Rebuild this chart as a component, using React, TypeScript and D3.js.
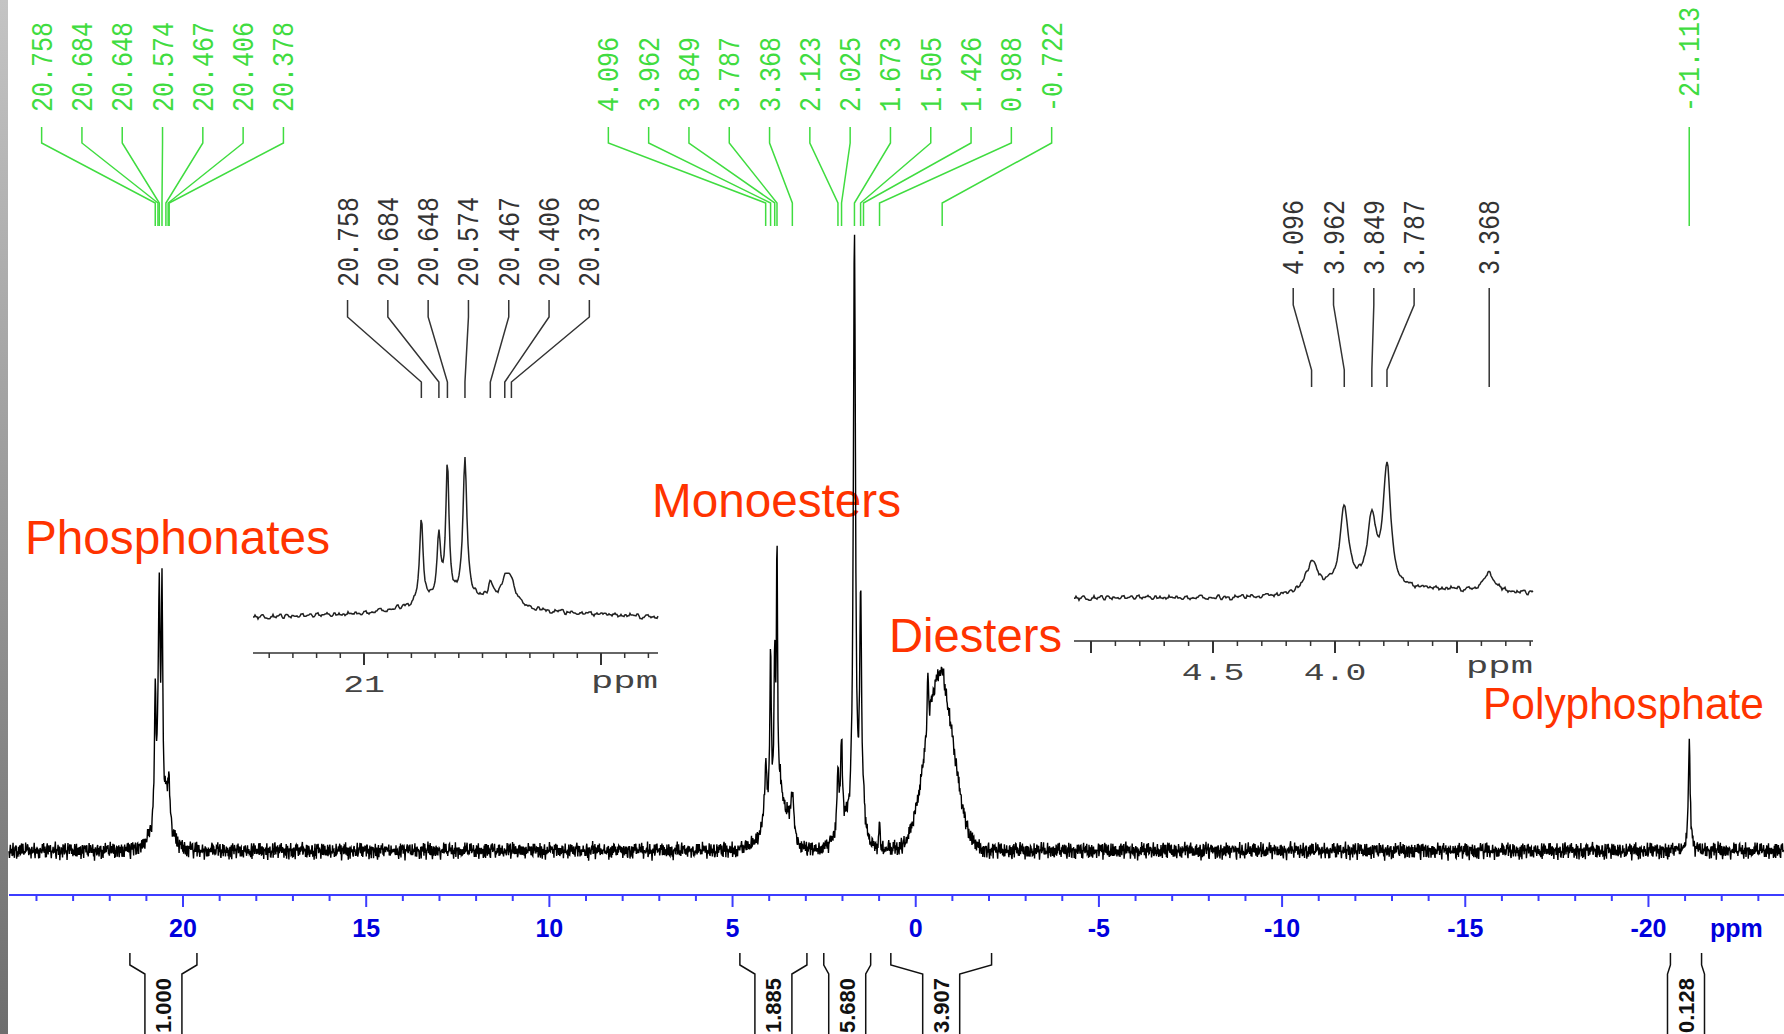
import React from 'react';
import * as d3 from 'd3';

const W = 1784;
const H = 1034;

// peaks: [ppm, height, half width (ppm), gaussian 1 / lorentzian 0]
// main trace heights are % of the tallest line
const phosphonatePeaks: number[][] = [
  [20.758, 22, 0.025, 0], [20.684, 10, 0.025, 0], [20.648, 34, 0.025, 0], [20.574, 38, 0.025, 0],
  [20.467, 5, 0.03, 0], [20.39, 8, 0.04, 0], [20.6, 3, 0.35, 1],
];
const monoesterPeaks: number[][] = [
  [4.096, 10, 0.04, 0], [3.962, 28, 0.025, 0], [3.849, 25, 0.025, 0], [3.787, 42, 0.02, 0],
  [3.7, 5, 0.05, 0], [3.368, 7, 0.04, 0], [3.55, 4, 0.2, 1], [3.95, 3, 0.4, 1],
];
const alkylPeaks: number[][] = [
  [2.123, 10, 0.03, 0], [2.025, 14.5, 0.03, 0], [1.673, 98, 0.035, 0], [1.505, 38, 0.03, 0],
  [1.426, 5, 0.04, 0], [0.988, 6, 0.012, 0], [1.9, 3, 0.3, 1],
];
const diesterPeaks: number[][] = [[-0.65, 28, 0.45, 1], [-0.33, 10, 0.02, 0], [-0.722, 2, 0.06, 0]];
const polyphosphatePeaks: number[][] = [[-21.113, 18, 0.03, 0]];

// expanded insets, heights in the inset's own units
const leftInsetPeaks: number[][] = [
  [20.758, 82, 0.009, 0], [20.684, 64, 0.009, 0], [20.648, 132, 0.008, 0], [20.574, 138, 0.01, 0],
  [20.467, 16, 0.012, 0], [20.406, 22, 0.02, 0], [20.378, 22, 0.02, 0], [20.6, 10, 0.2, 1], [20.55, 8, 0.4, 1],
];
const rightInsetPeaks: number[][] = [
  [4.096, 29, 0.03, 0], [3.962, 77, 0.02, 0], [3.849, 68, 0.02, 0], [3.787, 122, 0.018, 0],
  [3.368, 18, 0.025, 0], [3.55, 8, 0.4, 1], [3.95, 8, 0.12, 1],
];

// baseline noise, read as a texture
const noiseA = [0.3, -0.8, 0.5, 0.9, -0.2, -0.6, 0.7, -1, 0.1, 0.8, -0.4, 0.2, -0.9, 0.6, 0.4, -0.3, 1, -0.7, -0.1, 0.5, -0.5, 0.9, -0.8, 0.2, 0.7, -0.2, -1, 0.4, 0.6, -0.6, 0.1, 0.8, -0.4, -0.9, 0.3, 0.5, -0.1, 0.9, -0.7, 0.2, -0.3, 0.6, 1, -0.5, -0.8, 0.4, 0.1, -0.2, 0.7, -0.6, 0.3, 0.9, -0.9, 0.5, -0.4, 0.2, 0.8, -0.1, -0.7, 0.6, -0.3];
const noiseB = [-0.5, 0.7, 0.2, -0.9, 0.4, 0.8, -0.3, -0.6, 1, 0.1, -0.8, 0.5, -0.2, 0.6, -1, 0.3, 0.9, -0.4, -0.1, 0.7, -0.7, 0.2, 0.5, -0.5, 0.8, -0.9, 0.1, 0.4, -0.3, 0.6, -0.8, 0.9, -0.2, 0.3, -0.6, 0.7, 0.1, -0.4, 0.5, -1, 0.2, 0.8, -0.5, 0.4, -0.1, 0.6, -0.7];

const mainPeakLabels = [20.758, 20.684, 20.648, 20.574, 20.467, 20.406, 20.378, 4.096, 3.962, 3.849, 3.787, 3.368, 2.123, 2.025, 1.673, 1.505, 1.426, 0.988, -0.722, -21.113];
const leftInsetLabels = [20.758, 20.684, 20.648, 20.574, 20.467, 20.406, 20.378];
const rightInsetLabels = [4.096, 3.962, 3.849, 3.787, 3.368];

const axisMajor = [20, 15, 10, 5, 0, -5, -10, -15, -20];
const leftInsetTickLabels = ['21'];
const leftInsetTickValues = [21];
const rightInsetTickLabels = ['4.5', '4.0'];
const rightInsetTickValues = [4.5, 4.0];

const integralRanges = [[21.45, 19.62], [4.8, 2.97], [2.51, 1.23], [0.68, -2.07], [-20.6, -21.45]];
const integralValues = ['1.000', '1.885', '5.680', '3.907', '0.128'];

const regionNames = ['Phosphonates', 'Monoesters', 'Diesters', 'Polyphosphate'];
const regionPos = [[25, 554], [652, 517], [889, 652], [1483, 719]];
const regionWidth = [305, 249, 173, 281];
const regionSize = [48, 48, 48, 44];

const GREEN = '#40dc40';
const RED = '#ff3300';
const MONO = '"Liberation Mono", "DejaVu Sans Mono", monospace';
const SANS = '"Liberation Sans", Arial, sans-serif';

function peakSum(peaks: number[][], ppm: number) {
  let s = 0;
  for (const [c, h, w, g] of peaks) {
    const d = (ppm - c) / w;
    s += g ? h * Math.exp(-Math.LN2 * d * d) : h / (1 + d * d);
  }
  return s;
}

function noise(i: number) {
  return 0.6 * noiseA[i % noiseA.length] + 0.4 * noiseB[(i * 7) % noiseB.length];
}

// spread overlapping labels into evenly spaced groups centred on their peaks
function layoutLabels(xs: number[], gap: number) {
  let groups = xs.map((x, i) => ({ start: i, n: 1, center: x }));
  let merged = true;
  while (merged) {
    merged = false;
    for (let k = 0; k < groups.length - 1; k++) {
      const a = groups[k], b = groups[k + 1];
      const aRight = a.center + ((a.n - 1) * gap) / 2;
      const bLeft = b.center - ((b.n - 1) * gap) / 2;
      if (bLeft - aRight < gap) {
        const n = a.n + b.n;
        groups.splice(k, 2, { start: a.start, n, center: (a.center * a.n + b.center * b.n) / n });
        merged = true;
        break;
      }
    }
  }
  const tx: number[] = [];
  groups.forEach(g => {
    for (let j = 0; j < g.n; j++) tx.push(g.center + (j - (g.n - 1) / 2) * gap);
  });
  return tx;
}

function PeakLabels({ values, scale, color, textBottom, top, k1, k2, bottom }: any) {
  const px = values.map((v: number) => scale(v));
  const tx = layoutLabels(px, 40.3);
  return (
    <g>
      {values.map((v: number, i: number) => (
        <g key={i}>
          <text
            transform={`translate(${tx[i] + 10},${textBottom}) rotate(-90) scale(1,1.2)`}
            fontFamily={MONO}
            fontSize={25}
            fill={color}
          >
            {v.toFixed(3)}
          </text>
          <path
            d={`M${tx[i]},${top}V${k1}L${px[i]},${k2}V${bottom}`}
            stroke={color}
            strokeWidth={1.5}
            fill="none"
          />
        </g>
      ))}
    </g>
  );
}

function Inset({ peaks, x, y, x0, x1, axisY, majorStep, tickValues, tickLabels, labelY, ppmY, noiseAmp }: any) {
  const lo = x.invert(x1), hi = x.invert(x0);
  const pts: [number, number][] = [];
  let i = 0;
  for (let px = x0; px <= x1; px += 1, i++) {
    const n = 0.5 * noiseA[Math.floor(i / 3) % noiseA.length] + 0.5 * noiseB[(Math.floor((i + 1) / 3) * 5) % noiseB.length];
    pts.push([px, y(peakSum(peaks, x.invert(px)) + noiseAmp * n)]);
  }
  const ticks = d3.range(Math.ceil(lo * 10), Math.floor(hi * 10) + 1).map(v => v / 10);
  return (
    <g>
      <path d={d3.line()(pts) || ''} fill="none" stroke="#222" strokeWidth={1.5} />
      <line x1={x0} x2={x1} y1={axisY} y2={axisY} stroke="#333" strokeWidth={1.5} />
      {ticks.map(t => {
        const major = Math.abs(t / majorStep - Math.round(t / majorStep)) < 1e-6;
        return (
          <line key={t} x1={x(t)} x2={x(t)} y1={axisY} y2={axisY + (major ? 12 : 5)} stroke="#333" strokeWidth={major ? 2 : 1.5} />
        );
      })}
      {tickValues.map((t: number, k: number) => (
        <text key={t} transform={`translate(${x(t)},${labelY}) scale(1.45,1)`} textAnchor="middle" fontFamily={MONO} fontSize={24} fill="#444">
          {tickLabels[k]}
        </text>
      ))}
      <text transform={`translate(${x1},${ppmY}) scale(1.55,1)`} textAnchor="end" fontFamily={MONO} fontSize={24} fill="#444">ppm</text>
    </g>
  );
}

export default function App() {
  const xMain = d3.scaleLinear().domain([24.75, -23.7]).range([9, W]);
  const yMain = d3.scaleLinear().domain([0, 100]).range([851, 237]);
  const allPeaks = [...phosphonatePeaks, ...monoesterPeaks, ...alkylPeaks, ...diesterPeaks, ...polyphosphatePeaks];

  const mainPts: [number, number][] = [];
  let i = 0;
  for (let px = 9; px <= W; px += 0.45, i++) {
    mainPts.push([px, yMain(peakSum(allPeaks, xMain.invert(px)) + 1.6 * noise(i))]);
  }

  const xLeft = d3.scaleLinear().domain([21, 20]).range([364, 601]);
  const yLeft = d3.scaleLinear().domain([0, 163]).range([617, 454]);
  const xRight = d3.scaleLinear().domain([4.5, 4.0]).range([1213, 1335]);
  const yRight = d3.scaleLinear().domain([0, 143]).range([598, 455]);

  const axisY = 895;
  const minorTicks = d3.range(-23, 25);

  return (
    <svg width={W} height={H} style={{ position: 'absolute', left: 0, top: 0, display: 'block', background: '#fff' }}>
      <defs>
        <linearGradient id="edge" x1="0" y1="0" x2="0" y2="1">
          <stop offset="0" stopColor="#c4c4c4" />
          <stop offset="1" stopColor="#6e6e6e" />
        </linearGradient>
      </defs>
      <rect x={0} y={0} width={W} height={H} fill="#fff" />
      <rect x={0} y={0} width={8} height={H} fill="url(#edge)" />

      <PeakLabels values={mainPeakLabels} scale={xMain} color={GREEN} textBottom={112} top={127} k1={143} k2={203} bottom={226} />
      <PeakLabels values={leftInsetLabels} scale={xLeft} color="#333" textBottom={287} top={300} k1={317} k2={382} bottom={398} />
      <PeakLabels values={rightInsetLabels} scale={xRight} color="#333" textBottom={275} top={288} k1={305} k2={370} bottom={387} />

      <Inset peaks={leftInsetPeaks} x={xLeft} y={yLeft} x0={253} x1={658} axisY={653} majorStep={1}
        tickValues={leftInsetTickValues} tickLabels={leftInsetTickLabels} labelY={692} ppmY={688} noiseAmp={3} />
      <Inset peaks={rightInsetPeaks} x={xRight} y={yRight} x0={1074} x1={1533} axisY={641} majorStep={0.5}
        tickValues={rightInsetTickValues} tickLabels={rightInsetTickLabels} labelY={680} ppmY={673} noiseAmp={3} />

      {regionNames.map((n, k) => (
        <text key={n} x={regionPos[k][0]} y={regionPos[k][1]} fontFamily={SANS} fontSize={regionSize[k]} fill={RED}
          textLength={regionWidth[k]} lengthAdjust="spacingAndGlyphs">{n}</text>
      ))}

      <path d={d3.line()(mainPts) || ''} fill="none" stroke="#000" strokeWidth={1.4} />

      <line x1={9} x2={W} y1={axisY} y2={axisY} stroke="#3c3cff" strokeWidth={2} />
      {minorTicks.map(t => (
        <line key={t} x1={xMain(t)} x2={xMain(t)} y1={axisY} y2={axisY + (t % 5 === 0 ? 12 : 6)} stroke="#3c3cff" strokeWidth={2} />
      ))}
      {axisMajor.map(t => (
        <text key={t} x={xMain(t)} y={937} textAnchor="middle" fontFamily={SANS} fontWeight="bold" fontSize={25} fill="#0000dd">{t}</text>
      ))}
      <text x={1710} y={937} fontFamily={SANS} fontWeight="bold" fontSize={25} fill="#0000dd">ppm</text>

      {integralRanges.map(([a, b], k) => {
        const xl = xMain(a), xr = xMain(b), cx = (xl + xr) / 2;
        const bl = cx - 18.5, br = cx + 18.5;
        return (
          <g key={k}>
            <path d={`M${xl},953V965L${bl},974V1040M${xr},953V965L${br},974V1040`} fill="none" stroke="#111" strokeWidth={1.5} />
            <text transform={`translate(${cx + 8},1033) rotate(-90)`} fontFamily={SANS} fontWeight="bold" fontSize={22} fill="#111">
              {integralValues[k]}
            </text>
          </g>
        );
      })}
    </svg>
  );
}
